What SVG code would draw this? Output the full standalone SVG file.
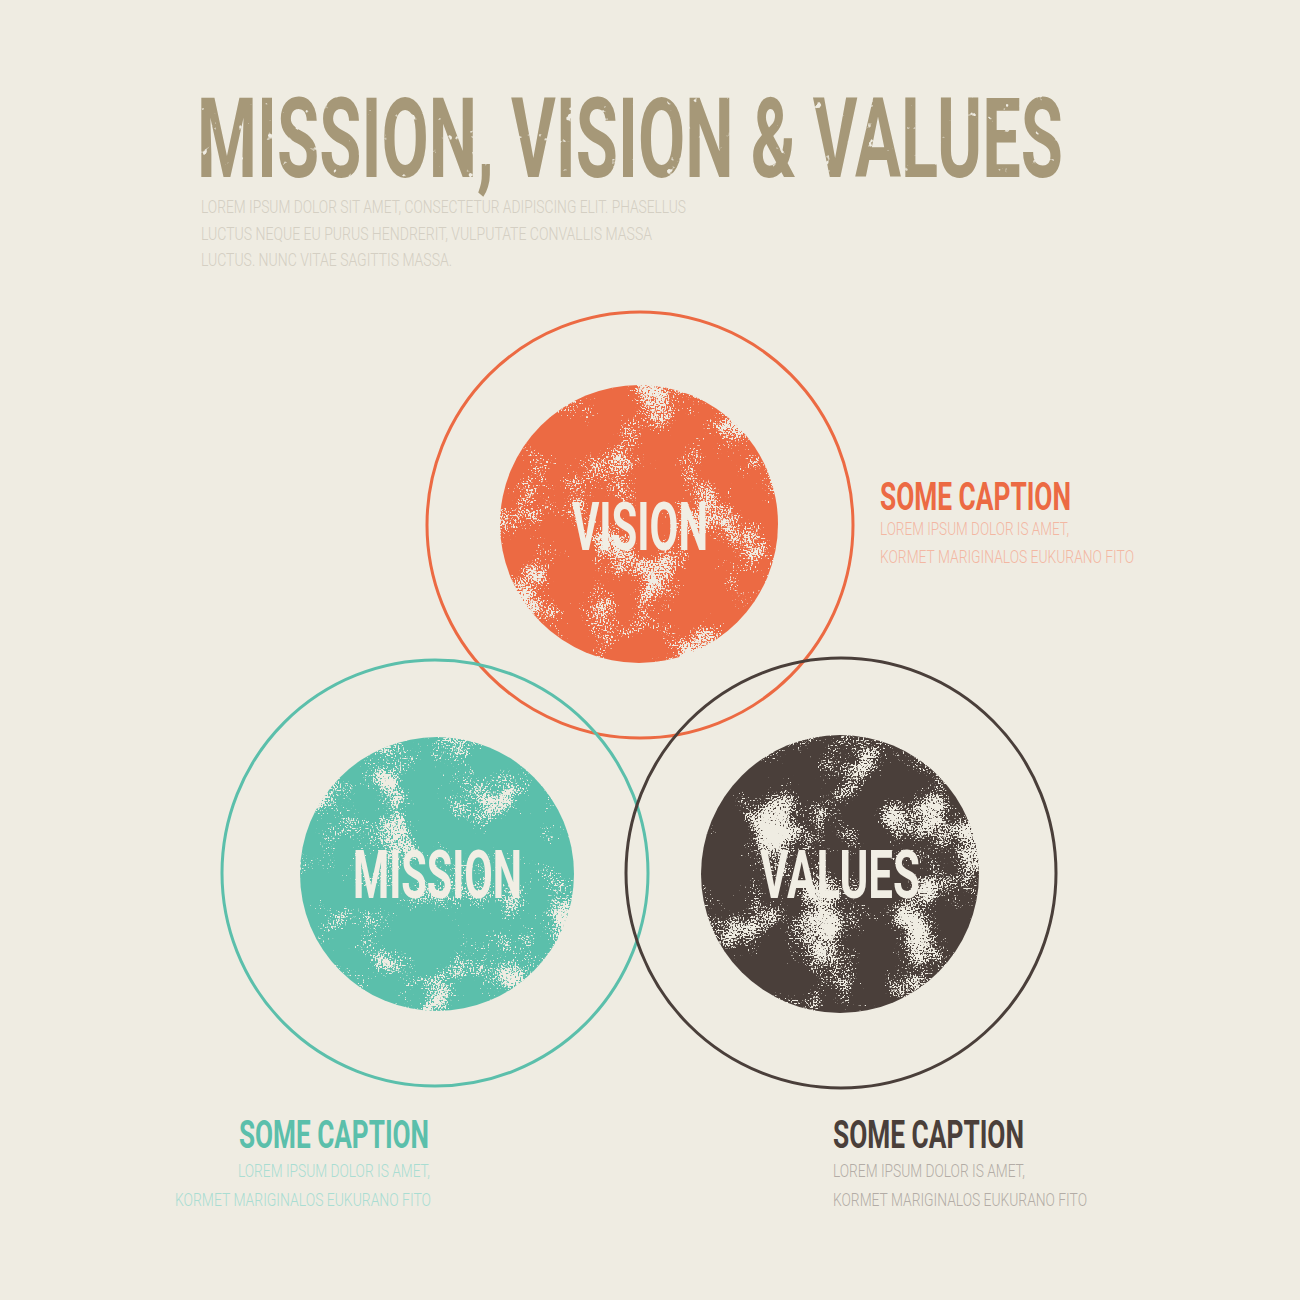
<svg xmlns="http://www.w3.org/2000/svg" width="1300" height="1300" viewBox="0 0 1300 1300">
  <defs>
    <style>
      .cond { font-family: Roboto, "Liberation Sans", "DejaVu Sans", sans-serif; font-weight: 700; }
      .thin { font-family: Roboto, "Liberation Sans", "DejaVu Sans", sans-serif; font-weight: 300; font-size: 19px; }
      .cap { font-size: 38px; }
      .label { font-size: 67px; fill: #F1EEE4; }
      .ring { fill: none; stroke-width: 3; }
    </style>
    <filter id="grunge" x="-5%" y="-5%" width="110%" height="110%" color-interpolation-filters="sRGB">
      <feTurbulence type="fractalNoise" baseFrequency="0.022" numOctaves="4" seed="7" result="n1"/>
      <feColorMatrix in="n1" type="matrix" values="0 0 0 0 0  0 0 0 0 0  0 0 0 0 0  1 0 0 0 0" result="a1"/>
      <feTurbulence type="fractalNoise" baseFrequency="0.6" numOctaves="1" seed="3" result="n2"/>
      <feColorMatrix in="n2" type="matrix" values="0 0 0 0 0  0 0 0 0 0  0 0 0 0 0  1 0 0 0 0" result="a2"/>
      <feComposite in="a1" in2="a2" operator="arithmetic" k1="0" k2="1" k3="0.8" k4="-0.4" result="sum"/>
      <feComponentTransfer in="sum" result="holes">
        <feFuncA type="linear" slope="14" intercept="-8.9"/>
      </feComponentTransfer>
      <feComposite in="SourceGraphic" in2="holes" operator="out"/>
    </filter>
    <filter id="grungeHeavy" x="-5%" y="-5%" width="110%" height="110%" color-interpolation-filters="sRGB">
      <feTurbulence type="fractalNoise" baseFrequency="0.02" numOctaves="4" seed="23" result="n1"/>
      <feColorMatrix in="n1" type="matrix" values="0 0 0 0 0  0 0 0 0 0  0 0 0 0 0  1 0 0 0 0" result="a1"/>
      <feTurbulence type="fractalNoise" baseFrequency="0.6" numOctaves="1" seed="5" result="n2"/>
      <feColorMatrix in="n2" type="matrix" values="0 0 0 0 0  0 0 0 0 0  0 0 0 0 0  1 0 0 0 0" result="a2"/>
      <feComposite in="a1" in2="a2" operator="arithmetic" k1="0" k2="1" k3="0.8" k4="-0.4" result="sum"/>
      <feComponentTransfer in="sum" result="holes">
        <feFuncA type="linear" slope="14" intercept="-8.5"/>
      </feComponentTransfer>
      <feComposite in="SourceGraphic" in2="holes" operator="out"/>
    </filter>
    <filter id="grungeFine" x="-2%" y="-10%" width="104%" height="120%" color-interpolation-filters="sRGB">
      <feTurbulence type="fractalNoise" baseFrequency="0.09" numOctaves="3" seed="2" result="n1"/>
      <feColorMatrix in="n1" type="matrix" values="0 0 0 0 0  0 0 0 0 0  0 0 0 0 0  1 0 0 0 0" result="a1"/>
      <feComponentTransfer in="a1" result="holes">
        <feFuncA type="linear" slope="14" intercept="-10.2"/>
      </feComponentTransfer>
      <feComposite in="SourceGraphic" in2="holes" operator="out"/>
    </filter>
  </defs>

  <rect x="0" y="0" width="1300" height="1300" fill="#EFECE2"/>

  <g id="title">
    <text class="cond" x="197" y="177" font-size="111" fill="#A69878" textLength="866" lengthAdjust="spacingAndGlyphs" filter="url(#grungeFine)">MISSION, VISION &amp; VALUES</text>
    <g class="thin" fill="#D4CFC3">
      <text x="201" y="213" textLength="485" lengthAdjust="spacingAndGlyphs">LOREM IPSUM DOLOR SIT AMET, CONSECTETUR ADIPISCING ELIT. PHASELLUS</text>
      <text x="201" y="240" textLength="451" lengthAdjust="spacingAndGlyphs">LUCTUS NEQUE EU PURUS HENDRERIT, VULPUTATE CONVALLIS MASSA</text>
      <text x="201" y="266" textLength="251" lengthAdjust="spacingAndGlyphs">LUCTUS. NUNC VITAE SAGITTIS MASSA.</text>
    </g>
  </g>

  <g id="node-vision">
    <circle class="ring" cx="640" cy="525" r="213" stroke="#EC6A43"/>
    <circle cx="639" cy="524" r="139" fill="#EC6A43" filter="url(#grunge)"/>
    <text class="cond label" x="572" y="550" textLength="136" lengthAdjust="spacingAndGlyphs">VISION</text>
  </g>

  <g id="node-mission">
    <circle class="ring" cx="435" cy="873" r="213" stroke="#5BBFAB"/>
    <circle cx="437" cy="874" r="137" fill="#5BBFAB" filter="url(#grunge)"/>
    <text class="cond label" x="353" y="898" textLength="169" lengthAdjust="spacingAndGlyphs">MISSION</text>
  </g>

  <g id="node-values">
    <circle class="ring" cx="841" cy="873" r="215" stroke="#4A3F3A"/>
    <circle cx="840" cy="874" r="139" fill="#4A3F3A" filter="url(#grungeHeavy)"/>
    <text class="cond label" x="760" y="898" textLength="160" lengthAdjust="spacingAndGlyphs">VALUES</text>
  </g>

  <g id="connectors"></g>

  <g id="caption-vision">
    <text class="cond cap" x="880" y="510" fill="#EC6A43" textLength="191" lengthAdjust="spacingAndGlyphs">SOME CAPTION</text>
    <g class="thin" fill="#F3B7A2">
      <text x="880" y="535" textLength="189" lengthAdjust="spacingAndGlyphs">LOREM IPSUM DOLOR IS AMET,</text>
      <text x="880" y="563" textLength="254" lengthAdjust="spacingAndGlyphs">KORMET MARIGINALOS EUKURANO FITO</text>
    </g>
  </g>

  <g id="caption-mission">
    <text class="cond cap" x="239" y="1148" fill="#5BBFAB" textLength="190" lengthAdjust="spacingAndGlyphs">SOME CAPTION</text>
    <g class="thin" fill="#A9DDD2">
      <text x="238" y="1177" textLength="192" lengthAdjust="spacingAndGlyphs">LOREM IPSUM DOLOR IS AMET,</text>
      <text x="175" y="1206" textLength="256" lengthAdjust="spacingAndGlyphs">KORMET MARIGINALOS EUKURANO FITO</text>
    </g>
  </g>

  <g id="caption-values">
    <text class="cond cap" x="833" y="1148" fill="#4A3F3A" textLength="191" lengthAdjust="spacingAndGlyphs">SOME CAPTION</text>
    <g class="thin" fill="#B3ACA6">
      <text x="833" y="1177" textLength="192" lengthAdjust="spacingAndGlyphs">LOREM IPSUM DOLOR IS AMET,</text>
      <text x="833" y="1206" textLength="254" lengthAdjust="spacingAndGlyphs">KORMET MARIGINALOS EUKURANO FITO</text>
    </g>
  </g>
</svg>
